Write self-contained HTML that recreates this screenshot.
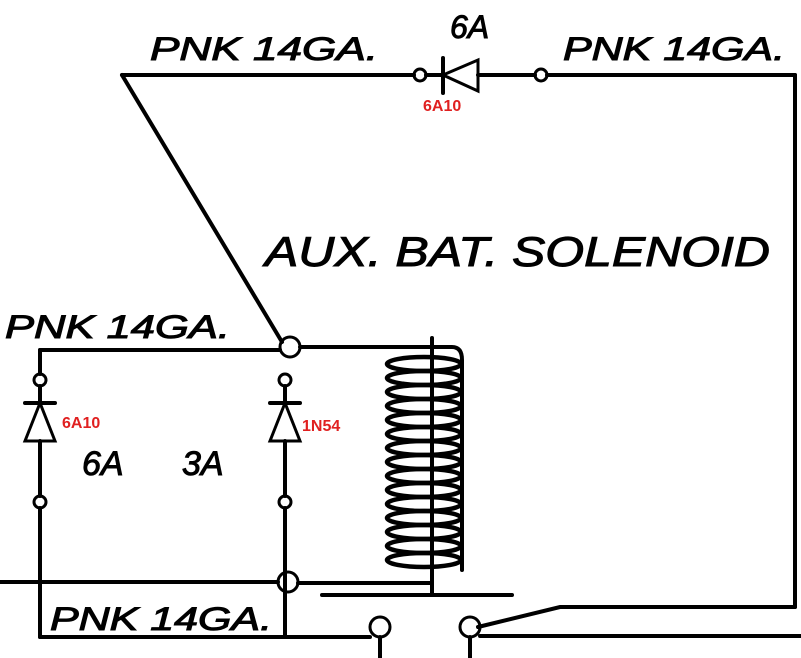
<!DOCTYPE html>
<html><head><style>body{margin:0;background:#fff}svg{display:block}</style></head><body>
<svg width="801" height="658" viewBox="0 0 801 658" xmlns="http://www.w3.org/2000/svg">
<rect width="801" height="658" fill="#fff"/>
<g stroke="#000" stroke-width="4" fill="none" stroke-linecap="round">
<line x1="122" y1="75" x2="414" y2="75"/>
<circle cx="420" cy="75" r="6" stroke-width="3"/>
<line x1="426" y1="75" x2="443" y2="75"/>
<line x1="443" y1="58" x2="443" y2="93"/>
<polygon points="443,75 478,60 478,91" stroke-width="3"/>
<line x1="478" y1="75" x2="535" y2="75"/>
<circle cx="541" cy="75" r="6" stroke-width="3"/>
<line x1="547" y1="75" x2="795" y2="75"/>
<line x1="795" y1="75" x2="795" y2="607"/>
<polyline points="795,607 560,607 478,627"/>
<line x1="480" y1="636" x2="801" y2="636"/>
<circle cx="470" cy="627" r="10" stroke-width="3"/>
<line x1="470" y1="637" x2="470" y2="658"/>
<circle cx="380" cy="627" r="10" stroke-width="3"/>
<line x1="380" y1="637" x2="380" y2="658"/>
<line x1="122" y1="75" x2="282" y2="342"/>
<circle cx="290" cy="347" r="10" stroke-width="3"/>
<line x1="40" y1="350" x2="280" y2="350"/>
<path d="M300,347 H452 Q462,347 462,360 V570"/>
<line x1="40" y1="350" x2="40" y2="374"/>
<circle cx="40" cy="380" r="6" stroke-width="3"/>
<line x1="40" y1="386" x2="40" y2="403"/>
<line x1="25" y1="403" x2="55" y2="403"/>
<polygon points="40,403 25,441 55,441" stroke-width="3"/>
<line x1="40" y1="441" x2="40" y2="496"/>
<circle cx="40" cy="502" r="6" stroke-width="3"/>
<line x1="40" y1="508" x2="40" y2="637"/>
<circle cx="285" cy="380" r="6" stroke-width="3"/>
<line x1="285" y1="386" x2="285" y2="403"/>
<line x1="270" y1="403" x2="300" y2="403"/>
<polygon points="285,403 270,441 300,441" stroke-width="3"/>
<line x1="285" y1="441" x2="285" y2="496"/>
<circle cx="285" cy="502" r="6" stroke-width="3"/>
<line x1="285" y1="508" x2="285" y2="637"/>
<circle cx="288" cy="582" r="10" stroke-width="3"/>
<line x1="0" y1="582" x2="278" y2="582"/>
<line x1="298" y1="583" x2="432" y2="583"/>
<line x1="40" y1="637" x2="370" y2="637"/>
<line x1="432" y1="338" x2="432" y2="593"/>
<line x1="322" y1="595" x2="512" y2="595"/>
<g stroke-width="4.5">
<ellipse cx="424" cy="364" rx="37" ry="7"/><ellipse cx="424" cy="378" rx="37" ry="7"/>
<ellipse cx="424" cy="392" rx="37" ry="7"/><ellipse cx="424" cy="406" rx="37" ry="7"/>
<ellipse cx="424" cy="420" rx="37" ry="7"/><ellipse cx="424" cy="434" rx="37" ry="7"/>
<ellipse cx="424" cy="448" rx="37" ry="7"/><ellipse cx="424" cy="462" rx="37" ry="7"/>
<ellipse cx="424" cy="476" rx="37" ry="7"/><ellipse cx="424" cy="490" rx="37" ry="7"/>
<ellipse cx="424" cy="504" rx="37" ry="7"/><ellipse cx="424" cy="518" rx="37" ry="7"/>
<ellipse cx="424" cy="532" rx="37" ry="7"/><ellipse cx="424" cy="546" rx="37" ry="7"/>
<ellipse cx="424" cy="560" rx="37" ry="7"/>
</g>
</g>
<g font-family="Liberation Sans, sans-serif" fill="#000" stroke="#000" stroke-width="1" font-style="italic">
<text x="150" y="60" font-size="32" textLength="228" lengthAdjust="spacingAndGlyphs">PNK 14GA.</text>
<text x="450" y="38" font-size="32">6A</text>
<text x="563" y="60" font-size="32" textLength="222" lengthAdjust="spacingAndGlyphs">PNK 14GA.</text>
<text x="265" y="266" font-size="42" textLength="505" lengthAdjust="spacingAndGlyphs">AUX. BAT. SOLENOID</text>
<text x="5" y="338" font-size="32" textLength="225" lengthAdjust="spacingAndGlyphs">PNK 14GA.</text>
<text x="82" y="475" font-size="34">6A</text>
<text x="182" y="475" font-size="34">3A</text>
<text x="50" y="630" font-size="32" textLength="222" lengthAdjust="spacingAndGlyphs">PNK 14GA.</text>
</g>
<g font-family="Liberation Sans, sans-serif" fill="#e02020" font-weight="bold" font-size="16">
<text x="423" y="111">6A10</text>
<text x="62" y="428">6A10</text>
<text x="302" y="431">1N54</text>
</g>
</svg>
</body></html>
